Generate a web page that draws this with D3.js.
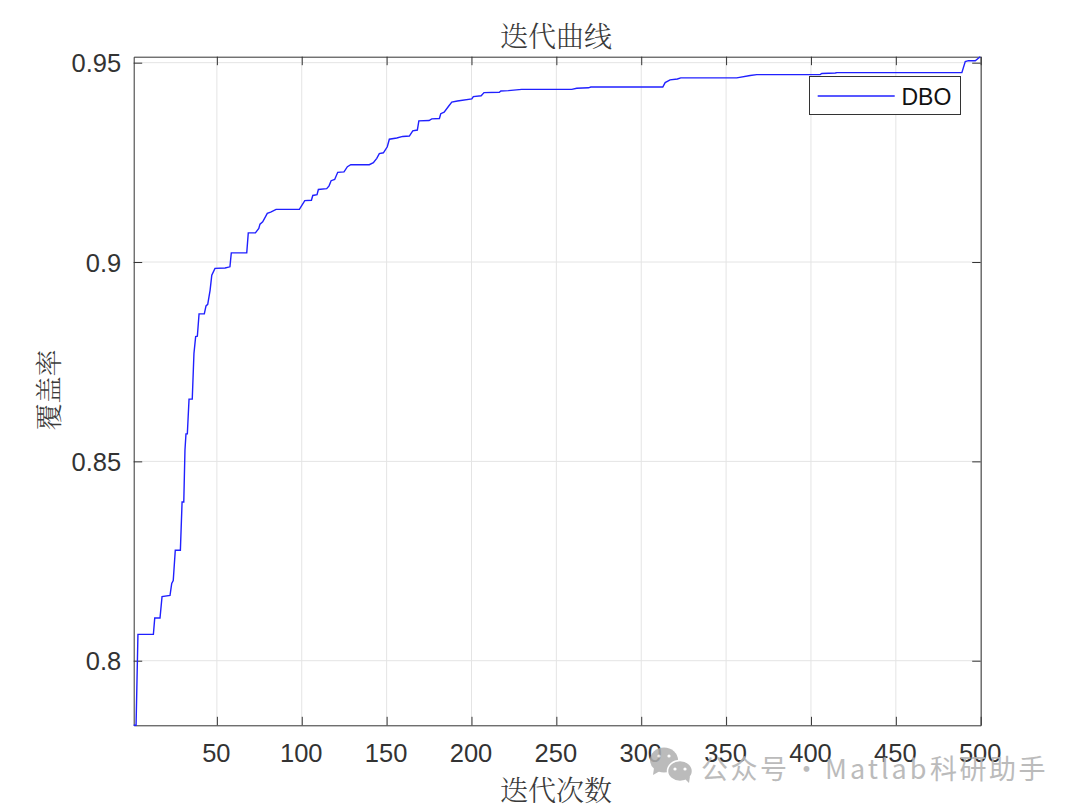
<!DOCTYPE html>
<html><head><meta charset="utf-8">
<script src="https://cdn.jsdelivr.net/npm/d3@7"></script>
<style>
html,body{margin:0;padding:0;background:#fff}
svg{display:block}
.cjk{font-family:"Noto Serif CJK SC","Noto Sans CJK SC",sans-serif;fill:#3a3a3a;font-weight:300}
.tick text{font-family:"Liberation Sans",Arial,sans-serif;font-size:25.5px;fill:#333}
</style></head><body>
<svg id="c" width="1080" height="810"></svg>
<script>
const titleText = "迭代曲线";
const xLabel = "迭代次数";
const yLabel = "覆盖率";
const seriesName = "DBO";
const xTicks = [50,100,150,200,250,300,350,400,450,500];
const yTicks = [0.8,0.85,0.9,0.95];
const xDomain = [1,500];
const yDomain = [0.7838,0.9515];
const iterations = [1,2.4,3.5,12.6,13.4,16.5,17.7,22.4,23.4,24.3,25.5,28.5,29.5,30.5,31.2,
  31.8,32.6,33.6,35.5,36.5,37.5,38.5,39.5,42.6,43.6,44.6,46,47,48.9,54.8,57.7,58.5,67.6,68.5,72.7,74.7,75.4,77,79.7,81.7,84.9,98.6,
  101.8,105.7,106.5,109,109.8,114.7,116.1,117.3,119.4,121.2,124.9,126.9,128.9,139.8,142.2,144.2,145.7,148.1,150.4,151.6,156,159.5,163.4,165.4,168.1,
  169,175,176.6,181.1,181.9,183.9,186.4,188.4,191.7,200.2,201.1,205.7,207.4,216.4,217.3,221.7,229.6,259.1,262,268.9,270.3,312.7,314.1,317,321.3,323.3,346.5,
  356.3,364.2,368.1,405.4,406.4,414.3,415.3,488.9,490.9,492.8,496.8,499.7];
const coverage = [0.7838,0.7838,0.8066,0.8066,0.8107,0.8107,0.8161,0.8164,0.8194,0.8201,0.8277,0.8277,0.8398,0.8398,0.8528,
  0.8569,0.8569,0.8656,0.8656,0.8771,0.8813,0.8814,0.8870,0.8870,0.8890,0.8894,0.8929,0.8967,0.8984,0.8985,0.8988,0.9023,0.9023,0.9073,0.9073,0.9084,0.9095,0.9101,0.9122,0.9125,0.9132,0.9132,
  0.9154,0.9155,0.9167,0.9169,0.9182,0.9184,0.9191,0.9204,0.9207,0.9225,0.9226,0.9239,0.9244,0.9244,0.9249,0.9260,0.9272,0.9274,0.9289,0.9308,0.9311,0.9315,0.9316,0.9329,0.9331,
  0.9354,0.9355,0.9359,0.9360,0.9372,0.9376,0.9390,0.9401,0.9404,0.9409,0.9415,0.9417,0.9425,0.9426,0.9429,0.9430,0.9433,0.9433,0.9436,0.9437,0.9439,0.9439,0.9450,0.9457,0.9459,0.9462,0.9462,
  0.9462,0.9468,0.9470,0.9470,0.9473,0.9474,0.9475,0.9475,0.9503,0.9505,0.9505,0.9515];

const L=133.7,R=980.7,T=56.7,B=725.3;
const svg=d3.select("#c");
const x=d3.scaleLinear().domain(xDomain).range([L,R]);
const y=d3.scaleLinear().domain(yDomain).range([B,T]);
const ink="#333", grid="#e4e4e4", tl=8.5;

// grid
const g=svg.append("g");
g.selectAll("line.gx").data(xTicks).join("line").attr("class","gx").attr("x1",d=>x(d)).attr("x2",d=>x(d)).attr("y1",T).attr("y2",B).attr("stroke",grid);
g.selectAll("line.gy").data(yTicks).join("line").attr("class","gy").attr("y1",d=>y(d)).attr("y2",d=>y(d)).attr("x1",L).attr("x2",R).attr("stroke",grid);

// axes
function style(a){a.select(".domain").attr("stroke",ink);a.selectAll(".tick line").attr("stroke",ink);}
const fmt=d=>String(d);
const bx=svg.append("g").attr("transform",`translate(0,${B})`)
  .call(d3.axisBottom(x).tickValues(xTicks).tickFormat(fmt).tickSize(-tl).tickSizeOuter(0).tickPadding(19)).call(style);
bx.selectAll(".tick text").attr("dx",-1);
svg.append("g").attr("transform",`translate(0,${T})`)
  .call(d3.axisTop(x).tickValues(xTicks).tickFormat("").tickSize(-tl).tickSizeOuter(0)).call(style);
const ly=svg.append("g").attr("transform",`translate(${L},0)`)
  .call(d3.axisLeft(y).tickValues(yTicks).tickFormat(fmt).tickSize(-tl).tickSizeOuter(0).tickPadding(12.5)).call(style);
ly.selectAll(".tick text").attr("dy","0.36em");
svg.append("g").attr("transform",`translate(${R},0)`)
  .call(d3.axisRight(y).tickValues(yTicks).tickFormat("").tickSize(-tl).tickSizeOuter(0)).call(style);

// line
const line=d3.line().x(d=>x(d[0])).y(d=>y(d[1]));
svg.append("path").datum(iterations.map((v,i)=>[v,coverage[i]])).attr("d",line)
  .attr("fill","none").attr("stroke","#2020ff").attr("stroke-width",1.4);

// legend
svg.append("rect").attr("x",809.5).attr("y",76.5).attr("width",151).attr("height",38)
  .attr("fill","#fff").attr("stroke",ink);
svg.append("line").attr("x1",817.7).attr("x2",894.7).attr("y1",96).attr("y2",96).attr("stroke","#2020ff").attr("stroke-width",1.4);
svg.append("text").attr("x",901.5).attr("y",105).text(seriesName)
  .attr("font-family","Liberation Sans").attr("font-size",23).attr("fill","#111");

// titles
svg.append("text").attr("class","cjk").attr("x",556).attr("y",47).attr("text-anchor","middle").attr("font-size",28).text(titleText);
svg.append("text").attr("class","cjk").attr("x",556).attr("y",801).attr("text-anchor","middle").attr("font-size",28).text(xLabel);
svg.append("text").attr("class","cjk").attr("transform","translate(59,390) rotate(-90)").attr("text-anchor","middle").attr("font-size",27).text(yLabel);

// watermark
const wm=svg.append("g").attr("opacity",0.85);
wm.append("ellipse").attr("cx",664).attr("cy",760).attr("rx",14).attr("ry",12.5).attr("fill","#b0b0b0");
wm.append("ellipse").attr("cx",680).attr("cy",771).attr("rx",12.5).attr("ry",10.5).attr("fill","#b0b0b0").attr("stroke","#fff").attr("stroke-width",1.5);
wm.append("path").attr("d","M654 768l-1 7 7-4zM685 779l4 4 1-7z").attr("fill","#b0b0b0");
[[659,756],[669,756],[675,769],[685,769]].forEach(p=>wm.append("circle").attr("cx",p[0]).attr("cy",p[1]).attr("r",1.6).attr("fill","#fff"));
const wt=svg.append("text").attr("y",779).attr("font-family","Noto Sans CJK SC").attr("font-size",27).attr("letter-spacing",2.5)
  .attr("fill","#b4b4b4").attr("opacity",0.9);
wt.append("tspan").attr("x",701).text("公众号");
wt.append("tspan").attr("x",793).text("·");
wt.append("tspan").attr("x",825).attr("letter-spacing",3).text("Matlab");
wt.append("tspan").attr("x",930).text("科研助手");
</script>
</body></html>
